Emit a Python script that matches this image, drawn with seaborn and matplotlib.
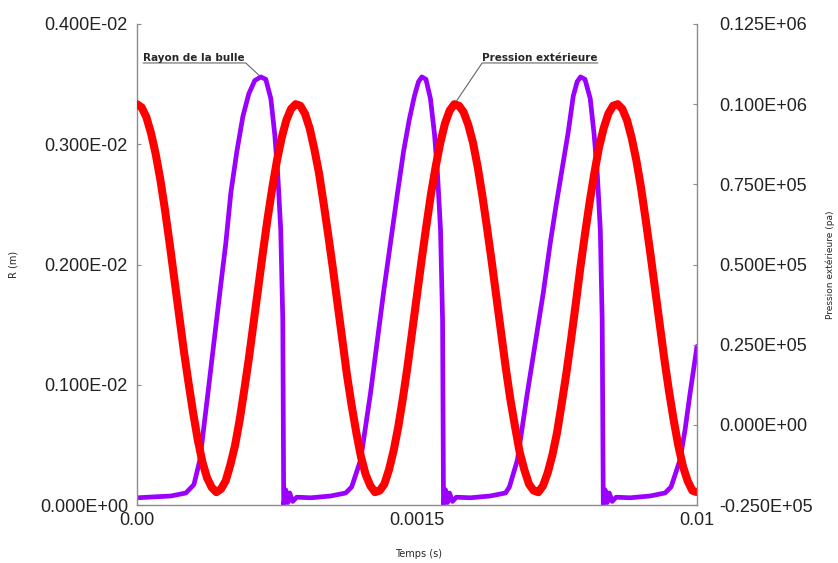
import numpy as np
import pandas as pd
import matplotlib
matplotlib.use("Agg")
import matplotlib.pyplot as plt
import seaborn as sns
from matplotlib.ticker import FixedLocator, FixedFormatter

# external pressure, read every 25 us
time_p_us = [0, 25, 50, 75, 100, 125, 150, 175, 200, 225,
             250, 275, 300, 325, 350, 375, 400, 425, 450, 475,
             500, 525, 550, 575, 600, 625, 650, 675, 700, 725,
             750, 775, 800, 825, 850, 875, 900, 925, 950, 975,
             1000, 1025, 1050, 1075, 1100, 1125, 1150, 1175, 1200, 1225,
             1250, 1275, 1300, 1325, 1350, 1375, 1400, 1425, 1450, 1475,
             1500, 1525, 1550, 1575, 1600, 1625, 1650, 1675, 1700, 1725,
             1750, 1775, 1800, 1825, 1850, 1875, 1900, 1925, 1950, 1975,
             2000, 2025, 2050, 2075, 2100, 2125, 2150, 2175, 2200, 2225,
             2250, 2275, 2300, 2325, 2350, 2375, 2400, 2425, 2450, 2475,
             2500, 2525, 2550, 2575, 2600, 2625, 2650, 2675, 2700, 2725,
             2750, 2775, 2800, 2825, 2850, 2875, 2900, 2925, 2950, 2975,
             3000]
pressure_pa = [100000, 99000, 96000, 91000, 84500, 76500, 67000, 56500, 45500, 34500,
               23500, 13500, 4000, -4500, -11500, -16500, -19500, -21000, -20000, -17500,
               -12500, -6500, 1500, 11000, 21000, 32000, 43000, 54000, 64500, 74000,
               82500, 89500, 95000, 98500, 100000, 99500, 97000, 92500, 86000, 78500,
               69000, 59000, 48500, 37500, 26500, 15500, 6000, -2500, -10000, -15500,
               -19000, -21000, -20500, -18500, -14000, -8000, -500, 8500, 18500, 29500,
               40500, 51500, 62000, 72000, 80500, 88000, 94000, 98000, 100000, 99500,
               97500, 93500, 88000, 80500, 71500, 61500, 51000, 40000, 29000, 18000,
               8000, -500, -8500, -14000, -18500, -20500, -21000, -19000, -15000, -9500,
               -2500, 6500, 16000, 26500, 37500, 49000, 59500, 69500, 78500, 86500,
               92500, 97000, 99500, 100000, 98500, 95000, 89500, 82500, 74000, 64000,
               53500, 42500, 31500, 20500, 10500, 1500, -6500, -13000, -17500, -20500,
               -21000]

# bubble radius
time_r_us = [0, 182, 262, 305, 337, 380, 412, 444, 476, 503, 535, 567, 599, 631, 663, 690,
             717, 738, 754, 770, 781, 786, 797, 808, 818, 834, 856, 931, 1038,
             1118, 1150, 1198, 1251, 1286, 1321, 1358, 1396, 1428, 1458, 1486, 1508, 1526, 1548,
             1572, 1594, 1610, 1626, 1637, 1642, 1653, 1663, 1674, 1690, 1711, 1786, 1893,
             1974, 1995, 2038, 2091, 2134, 2177, 2214, 2246, 2278, 2310, 2337, 2358, 2376, 2400,
             2428, 2449, 2466, 2482, 2492, 2498, 2508, 2519, 2530, 2546, 2567, 2642, 2749,
             2829, 2861, 2909, 2936, 2963, 3000]
radius_mm = [0.06, 0.075, 0.10, 0.17, 0.375, 0.93, 1.35, 1.77, 2.18, 2.60, 2.94, 3.23, 3.42, 3.53, 3.56, 3.54,
             3.38, 3.08, 2.75, 2.29, 1.54, 0.0, 0.125, 0.02, 0.10, 0.03, 0.065, 0.06, 0.075,
             0.10, 0.15, 0.375, 0.93, 1.35, 1.77, 2.18, 2.60, 2.94, 3.20, 3.40, 3.52, 3.56, 3.54,
             3.38, 3.08, 2.75, 2.29, 1.54, 0.0, 0.125, 0.02, 0.10, 0.03, 0.065, 0.06, 0.075,
             0.10, 0.15, 0.375, 0.93, 1.35, 1.77, 2.18, 2.50, 2.80, 3.10, 3.40, 3.52, 3.56, 3.54,
             3.38, 3.08, 2.75, 2.29, 1.54, 0.0, 0.125, 0.02, 0.10, 0.03, 0.065, 0.06, 0.075,
             0.10, 0.15, 0.375, 0.625, 0.93, 1.32]

t_ticks = [0.0, 0.0015, 0.003]
t_tick_labels = ["0.00", "0.0015", "0.01"]
r_ticks = [0.0, 0.001, 0.002, 0.003, 0.004]
r_tick_labels = ["0.000E+00", "0.100E-02", "0.200E-02", "0.300E-02", "0.400E-02"]
p_ticks = [-25000, 0, 25000, 50000, 75000, 100000, 125000]
p_tick_labels = ["-0.250E+05", "0.000E+00", "0.250E+05", "0.500E+05",
                 "0.750E+05", "0.100E+06", "0.125E+06"]

sns.set_style("white")
plt.rcParams['font.family'] = ['DejaVu Sans']
tick_font = ['Liberation Sans']
grey = "#8c8c8c"

df_p = pd.DataFrame({"t": np.array(time_p_us) * 1e-6, "p": pressure_pa})
df_r = pd.DataFrame({"t": np.array(time_r_us) * 1e-6, "r": np.array(radius_mm) * 1e-3})

fig = plt.figure(figsize=(8.38, 5.63), dpi=100)
ax = fig.add_axes([137 / 838, 1 - 505 / 563, 560 / 838, 481 / 563])
ax2 = ax.twinx()

sns.lineplot(data=df_r, x="t", y="r", ax=ax, color="#9b00ff", linewidth=3.4, estimator=None)
sns.lineplot(data=df_p, x="t", y="p", ax=ax2, color="#ff0000", linewidth=5.8, estimator=None)

ax.set_xlim(0, 0.003)
ax.set_ylim(0, 0.004)
ax2.set_ylim(-25000, 125000)

ax.xaxis.set_major_locator(FixedLocator(t_ticks))
ax.xaxis.set_major_formatter(FixedFormatter(t_tick_labels))
ax.yaxis.set_major_locator(FixedLocator(r_ticks))
ax.yaxis.set_major_formatter(FixedFormatter(r_tick_labels))
ax2.yaxis.set_major_locator(FixedLocator(p_ticks))
ax2.yaxis.set_major_formatter(FixedFormatter(p_tick_labels))

for a in (ax, ax2):
    for s in a.spines.values():
        s.set_color(grey)
        s.set_linewidth(1.0)
    a.spines['top'].set_visible(False)
ax.spines['right'].set_visible(False)
ax2.spines['left'].set_visible(False)
ax2.spines['bottom'].set_visible(False)

ax.tick_params(axis='y', direction='in', length=3, color=grey, pad=6.5,
               labelsize=13, labelcolor="#222222", labelfontfamily=tick_font)
ax.tick_params(axis='x', direction='in', length=3, color=grey, pad=5,
               labelsize=13, labelcolor="#222222", labelfontfamily=tick_font)
ax2.tick_params(axis='y', direction='in', length=3, color=grey, pad=16,
                labelsize=13, labelcolor="#222222", labelfontfamily=tick_font)

ax.set_xlabel("Temps (s)", fontsize=7)
ax.xaxis.set_label_coords(0.502, -0.092)
ax.set_ylabel("R (m)", fontsize=7)
ax.yaxis.set_label_coords(-0.2125, 0.5)
ax2.set_ylabel("Pression extérieure (pa)", fontsize=6.5)
ax2.yaxis.set_label_coords(1.229, 0.5)

# leader-line labels
i_r = 14
ax.annotate("Rayon de la bulle",
            xy=(df_r["t"][i_r], df_r["r"][i_r]), xycoords='data',
            xytext=(0.011, 0.919), textcoords='axes fraction',
            fontsize=7.5, fontweight='bold', ha='left', va='bottom',
            arrowprops=dict(arrowstyle='-', color="#666666", lw=0.8, relpos=(0, 0),
                            patchA=None, shrinkA=0, shrinkB=2,
                            connectionstyle='angle,angleA=0,angleB=137,rad=0'))
i_p = 68
ax2.annotate("Pression extérieure",
             xy=(df_p["t"][i_p], df_p["p"][i_p]), xycoords='data',
             xytext=(0.823, 0.919), textcoords='axes fraction',
             fontsize=7.5, fontweight='bold', ha='right', va='bottom',
             arrowprops=dict(arrowstyle='-', color="#666666", lw=0.8, relpos=(1, 0),
                             patchA=None, shrinkA=0, shrinkB=3,
                             connectionstyle='angle,angleA=0,angleB=56,rad=0'))

plt.savefig("out.png", dpi=100)
